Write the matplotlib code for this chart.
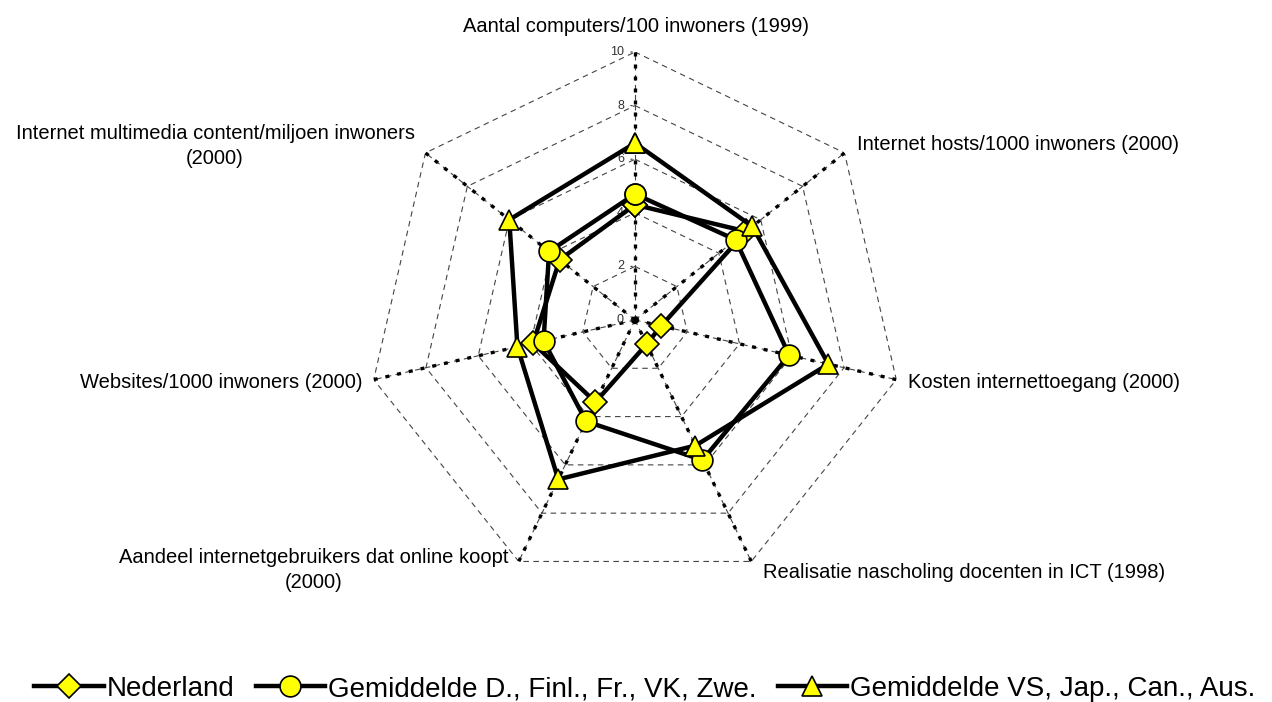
import numpy as np
import matplotlib
matplotlib.use("Agg")
import matplotlib.pyplot as plt

plt.rcParams['font.family'] = ['Liberation Sans', 'DejaVu Sans']

categories = [
    "Aantal computers/100 inwoners (1999)",
    "Internet hosts/1000 inwoners (2000)",
    "Kosten internettoegang (2000)",
    "Realisatie nascholing docenten in ICT (1998)",
    "Aandeel internetgebruikers dat online koopt\n(2000)",
    "Websites/1000 inwoners (2000)",
    "Internet multimedia content/miljoen inwoners\n(2000)",
]
series_names = [
    "Nederland",
    "Gemiddelde D., Finl., Fr., VK, Zwe.",
    "Gemiddelde VS, Jap., Can., Aus.",
]
nederland = [4.3, 5.3, 1.0, 1.0, 3.4, 3.9, 3.6]
gem_europa = [4.7, 4.8, 5.9, 5.8, 4.2, 3.5, 4.1]
gem_overig = [6.6, 5.6, 7.4, 5.2, 6.6, 4.5, 6.0]
ticks = [0, 2, 4, 6, 8, 10]

W, H = 1272, 702
fig = plt.figure(figsize=(W / 100, H / 100), dpi=100)
cx, cy, R = 635, 320, 268
ax = fig.add_axes([(cx - R) / W, (H - cy - R) / H, 2 * R / W, 2 * R / H], projection='polar')
ax.set_theta_offset(np.pi / 2)
ax.set_theta_direction(-1)
ax.set_ylim(0, 10)
ax.grid(False)
ax.spines['polar'].set_visible(False)
ax.set_xticks([])
ax.set_yticks([])
ax.patch.set_alpha(0)

n = len(categories)
theta = np.arange(n) * 2 * np.pi / n
theta_c = np.append(theta, theta[0])

# grid rings
for t in ticks[1:]:
    ax.plot(theta_c, [t] * (n + 1), color='#444444', lw=0.8, ls=(0, (5, 4)), zorder=1)
# spokes
for th in theta:
    ax.plot([th, th], [0, 10], color='#444444', lw=0.8, ls=(0, (5, 4)), zorder=1)
    ax.plot([th, th], [0, 10], color='black', lw=2.4, ls=(0, (1.2, 2.4)), zorder=1.5)

# tick labels on value axis
for t in ticks:
    ax.annotate(str(t), xy=(0, t), xytext=(-8, 0), textcoords='offset points',
                ha='right', va='center', fontsize=9, color='#333333')
    ax.annotate('', xy=(0, t), xytext=(-5, 0), textcoords='offset points',
                arrowprops=dict(arrowstyle='-', color='#333333', lw=0.8))

styles = [('D', 12), ('o', 15), ('^', 15)]
data = [nederland, gem_europa, gem_overig]
for i, (vals, name, (mk, ms)) in enumerate(zip(data, series_names, styles)):
    v = np.append(vals, vals[0])
    ax.plot(theta_c, v, color='black', lw=3.2, marker=mk, ms=ms,
            markerfacecolor='#FFFF00', markeredgecolor='black', markeredgewidth=1.2,
            label=name, zorder=3 + i, clip_on=False)

# category labels (pixel layout)
label_pos = [
    (636, 27, 'center'),
    (857, 145, 'left'),
    (908, 383, 'left'),
    (763, 573, 'left'),
    (314, 570, 'center'),
    (362, 383, 'right'),
    (215, 146, 'center'),
]
for lab, (x, y, ha) in zip(categories, label_pos):
    fig.text(x / W, 1 - y / H, lab, ha=ha, va='center', fontsize=14.5,
             color='black', linespacing=1.35, multialignment='center')

fig.legend(loc='center', bbox_to_anchor=(645 / W, 1 - 689 / H), ncol=3, frameon=False,
           fontsize=20, handlelength=2.5, handletextpad=0.12, columnspacing=0.75,
           markerscale=1.0)

fig.savefig('out.png', dpi=100)
